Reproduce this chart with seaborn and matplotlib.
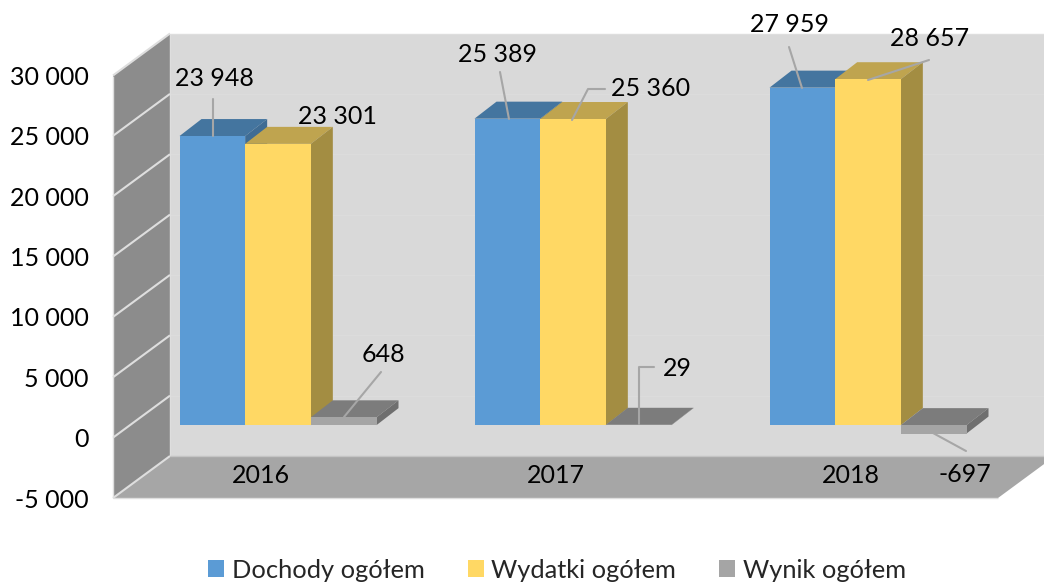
import matplotlib
matplotlib.use("Agg")
import matplotlib.pyplot as plt
from matplotlib.patches import Polygon
from matplotlib.transforms import IdentityTransform
import numpy as np
import pandas as pd
import seaborn as sns

# ---- data ----
years = ["2016", "2017", "2018"]
series_names = ["Dochody ogółem", "Wydatki ogółem", "Wynik ogółem"]
dochody = [23948, 25389, 27959]
wydatki = [23301, 25360, 28657]
wynik = [648, 29, -697]
y_ticks = [-5000, 0, 5000, 10000, 15000, 20000, 25000, 30000]

# ---- style / layout (pixels, origin top-left) ----
W, H = 1044, 583
DPI = 100
FONT = ["Lato", "DejaVu Sans"]
FS = 18
colors = ["#5b9bd5", "#ffd864", "#a5a5a5"]
top_colors = ["#44759f", "#bfa44f", "#7c7c7c"]
side_colors = ["#3f6c94", "#a38d42", "#6f6f6f"]
WALL_LEFT = "#8c8c8c"
WALL_BACK = "#d9d9d9"
FLOOR = "#a6a6a6"
EDGE = "#dedede"
LEADER = "#a6a6a6"
FRAME_L, FRAME_R, FRAME_T, FRAME_B = 113, 998, 75.5, 498
WALL_DX, WALL_DY = 57, 42
BAR_DX, BAR_DY = 17.5, 12.5
DEPTH_X, DEPTH_Y = 22, 17
label_pos = [(214, 78), (498, 54), (790, 25),
             (337, 116), (651, 89), (930, 39),
             (383, 355), (677, 368), (965, 474)]
leaders = [[(213, 99), (213, 136)], [(500, 72), (509, 119)], [(789, 47), (802, 88)],
           None, [(572, 120), (588, 89), (605, 89)], [(868, 80), (929, 60)],
           [(344, 417), (381, 372)], [(639, 424), (639, 367), (654, 367)], [(933, 433), (966, 451)]]

sns.set_theme(style="white")
plt.rcParams["font.family"] = FONT

df = pd.DataFrame({
    "rok": years * 3,
    "seria": np.repeat(series_names, 3),
    "wartosc": dochody + wydatki + wynik,
})

fig = plt.figure(figsize=(W / DPI, H / DPI), dpi=DPI, facecolor="white")


def rect(l, t, r, b):
    return [l / W, 1 - b / H, (r - l) / W, (b - t) / H]


ax_frame = fig.add_axes(rect(FRAME_L, FRAME_T, FRAME_R, FRAME_B), zorder=0)
ax = fig.add_axes(rect(FRAME_L + BAR_DX, FRAME_T - BAR_DY, FRAME_R + BAR_DX, FRAME_B - BAR_DY), zorder=1)

ymin, ymax = min(y_ticks), max(y_ticks)

# frame axes: ticks and walls
ax_frame.set_xlim(-0.5, 2.5)
ax_frame.set_ylim(ymin, ymax)
ax_frame.set_xticks(range(len(years)), years)
ax_frame.set_yticks(y_ticks, [f"{v:,}".replace(",", " ") for v in y_ticks])
ax_frame.tick_params(axis="y", length=0, pad=17.5, labelsize=FS, colors="black")
ax_frame.tick_params(axis="x", length=0, pad=-24.5, labelsize=FS, colors="black")
for s in ax_frame.spines.values():
    s.set_visible(False)
ax_frame.patch.set_visible(False)
ax_frame.set_axisbelow(False)

fig.canvas.draw()
to_px = ax_frame.transData.transform
ID = IdentityTransform()


def poly(target, pts, fc, ec="none", lw=0, z=1):
    target.add_patch(Polygon(pts, closed=True, facecolor=fc, edgecolor=ec, linewidth=lw,
                             transform=ID, clip_on=False, zorder=z))


x0, x1 = ax_frame.get_xlim()
fl = to_px((x0, ymin))
tl = to_px((x0, ymax))
fr = to_px((x1, ymin))
tr = to_px((x1, ymax))
d = np.array([WALL_DX, WALL_DY])
poly(ax_frame, [tl + d, tr + d, fr + d, fl + d], WALL_BACK, z=1)
poly(ax_frame, [fl, tl, tl + d, fl + d], WALL_LEFT, z=1.1)
poly(ax_frame, [fl, fr, fr + d, fl + d], FLOOR, z=1.1)


def line(a, b, color, lw, z=1.2):
    ax_frame.plot([a[0], b[0]], [a[1], b[1]], color=color, lw=lw, transform=ID, clip_on=False,
                  zorder=z, solid_capstyle="butt")


for v in y_ticks:
    a = to_px((x0, v))
    b = a + d
    e = to_px((x1, v)) + d
    line(a, b, EDGE, 1.5)
    if ymin < v < ymax:
        line(b, e, "#dcdcdc", 1, z=1.05)
line(fl, tl, EDGE, 1)
line(fl + d, tl + d, EDGE, 1)
line(fl, fr, EDGE, 1)
line(fl + d, fr + d, "#c4c4c4", 1)
line(tl + d, tr + d, EDGE, 1)

# bars
sns.barplot(data=df, x="rok", y="wartosc", hue="seria", hue_order=series_names, order=years,
            palette=colors, saturation=1, width=197 / 295, gap=0, errorbar=None, ax=ax,
            linewidth=0, edgecolor="none")
ax.set_xlim(-0.5, 2.5)
ax.set_ylim(ymin, ymax)
ax.set_axis_off()
fig.canvas.draw()

n_year = len(years)
for i, patch in enumerate(list(ax.patches)[:3 * n_year]):
    s = i // n_year
    bb = patch.get_window_extent()
    l, r, lo, hi = bb.x0, bb.x1, bb.y0, bb.y1
    z = 2 + (i % n_year) * 10 + s * 3
    patch.set_clip_on(False)
    patch.set_zorder(z + 2)
    poly(ax, [(l, hi), (r, hi), (r + DEPTH_X, hi + DEPTH_Y), (l + DEPTH_X, hi + DEPTH_Y)], top_colors[s], z=z)
    poly(ax, [(r, lo), (r, hi), (r + DEPTH_X, hi + DEPTH_Y), (r + DEPTH_X, lo + DEPTH_Y)], side_colors[s], z=z + 1)

# value labels and leader lines
values = dochody + wydatki + wynik
for v, (tx, ty), path in zip(values, label_pos, leaders):
    ax.text(tx, H - ty, f"{v:,}".replace(",", " "), transform=ID, ha="center", va="center",
            fontsize=FS, color="black", zorder=60, clip_on=False)
    if path:
        ax.plot([p[0] for p in path], [H - p[1] for p in path], color=LEADER, lw=1.5,
                transform=ID, clip_on=False, zorder=59)

# legend
handles, labels = ax.get_legend_handles_labels()
leg = ax.legend(handles, labels, ncol=3, frameon=False, loc="center", bbox_to_anchor=(557 / W, 1 - 570 / H),
                bbox_transform=fig.transFigure, fontsize=18.3, handlelength=0.62, handleheight=0.62,
                handletextpad=0.3, columnspacing=1.7, borderpad=0, borderaxespad=0)

fig.savefig("out.png", dpi=DPI, facecolor="white")
